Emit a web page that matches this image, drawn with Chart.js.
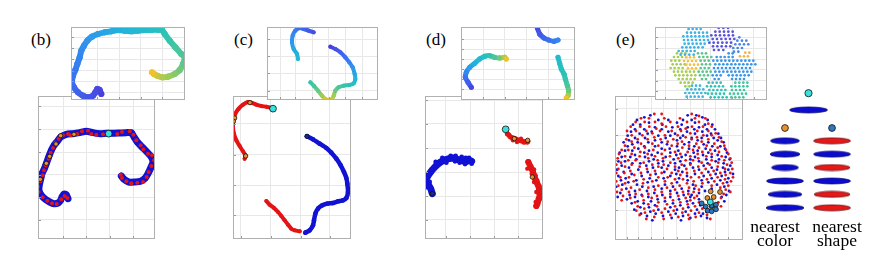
<!DOCTYPE html>
<html>
<head>
<meta charset="utf-8">
<script src="https://cdn.jsdelivr.net/npm/chart.js@4"></script>
<style>
body{margin:0;background:#fff;width:880px;height:270px;position:relative;overflow:hidden;font-family:"Liberation Serif","DejaVu Serif",serif}
canvas{position:absolute}
.lab{position:absolute;font-size:17px;line-height:16px;color:#000}
.cap{position:absolute;font-size:17.5px;line-height:14px;text-align:center;width:70px;color:#000}
</style>
</head>
<body>
<canvas id="bMain" width="117" height="143" style="left:38px;top:96px"></canvas>
<canvas id="bIn" width="114" height="73" style="left:71px;top:27px;z-index:2"></canvas>
<canvas id="cMain" width="118" height="143" style="left:233px;top:96px"></canvas>
<canvas id="cIn" width="111" height="73" style="left:267px;top:27px;z-index:2"></canvas>
<canvas id="dMain" width="118" height="143" style="left:425px;top:96px"></canvas>
<canvas id="dIn" width="114" height="73" style="left:461px;top:27px;z-index:2"></canvas>
<canvas id="eMain" width="128" height="144" style="left:615px;top:96px"></canvas>
<canvas id="eIn" width="112" height="73" style="left:655px;top:27px;z-index:2"></canvas>
<canvas id="eDiag" width="135" height="130" style="left:745px;top:85px"></canvas>
<div class="lab" style="left:31px;top:32px">(b)</div>
<div class="lab" style="left:234px;top:32px">(c)</div>
<div class="lab" style="left:426px;top:32px">(d)</div>
<div class="lab" style="left:616px;top:32px">(e)</div>
<div class="cap" style="left:740px;top:219px">nearest<br>color</div>
<div class="cap" style="left:802px;top:219px">nearest<br>shape</div>
<script>
// ---- panel (b) ----
const bGridX = [85, 155, 225, 295]
const bGridY = [42, 112, 180, 248, 316, 383]
const bBlue = [[100,320],[95,308],[88,306],[82,315],[78,325],[70,333],[58,335],[45,330],[32,322],[20,310],[13,295],[14,278],[18,262],[22,245],[30,228],[36,212],[42,195],[50,175],[58,160],[68,148],[78,135],[95,127],[115,125],[135,122],[155,118],[175,122],[195,125],[215,124],[235,124],[255,123],[275,122],[290,122],[298,135],[308,150],[322,165],[335,178],[350,195],[355,210],[348,228],[340,245],[332,258],[318,268],[300,270],[282,270],[268,262],[260,252]]
const bRed = [[98,318],[90,312],[80,322],[66,336],[52,334],[38,326],[24,316],[12,300],[10,284],[17,268],[24,250],[28,235],[33,220],[42,200],[48,182],[55,168],[62,152],[72,140],[85,130],[100,126],[108,130],[128,126],[142,118],[160,116],[170,126],[185,128],[205,127],[248,126],[262,120],[285,118],[296,128],[305,145],[318,160],[326,172],[340,185],[352,190],[358,205],[350,222],[342,240],[336,255],[325,270],[308,272],[290,274],[275,268],[262,258],[258,248]]
const bOrange = [[78,131],[118,127],[64,156],[45,193],[35,214],[17,262]]
const bCyan = [[222,125]]
const bInGridX = [88, 153, 218, 283]
const bInGridY = [40, 72, 105, 140, 172, 205]
const bInCurve = [[100,210],[95,198],[88,195],[82,205],[75,215],[62,220],[45,215],[30,205],[18,190],[12,175],[15,155],[22,138],[28,120],[35,100],[40,80],[48,65],[58,50],[72,38],[90,30],[110,25],[130,22],[150,18],[170,20],[190,22],[210,20],[230,18],[250,18],[270,17],[282,18],[290,30],[305,50],[322,70],[340,90],[350,100],[345,120],[335,138],[320,150],[300,158],[282,160],[268,155],[258,150],[252,145]]
const bInT = [0,0.02,0.03,0.04,0.05,0.07,0.09,0.11,0.13,0.15,0.17,0.19,0.21,0.23,0.25,0.27,0.29,0.31,0.33,0.36,0.38,0.4,0.42,0.44,0.46,0.48,0.5,0.52,0.54,0.57,0.6,0.63,0.66,0.69,0.72,0.75,0.79,0.83,0.87,0.91,0.95,1]

// ---- panel (c) ----
const cGridX = [38, 128, 218, 305]
const cGridY = [95, 188, 280, 370]
const cRed1 = [[128,47],[115,44],[100,42],[85,38],[70,32],[60,30],[45,38],[32,50],[22,65],[16,85],[15,105],[18,125],[25,145],[35,162],[45,178],[52,190],[50,200]]
const cRed2 = [[115,327],[125,338],[138,348],[150,360],[160,372],[170,385],[180,398],[190,410],[200,415],[215,418]]
const cBlue = [[237,133],[255,142],[275,155],[295,168],[310,182],[325,200],[338,220],[348,240],[355,258],[358,275],[360,300],[355,318],[345,325],[330,328],[315,333],[298,335],[283,340],[270,350],[262,365],[258,385],[255,400],[245,415],[232,422]]
const cOrange = [[66,32],[20,78],[16,88],[53,192]]
const cCyan = [[135,50]]
const cDark = [[237,133]]
const cInGridX = [55, 100, 150, 200, 250, 300]
const cInGridY = [45, 97, 148, 200]
const cInA = [[155,25],[140,20],[125,15],[113,12],[100,20],[92,35],[90,55],[95,75],[105,90],[108,105]]
const cInAT = [0.05,0.08,0.12,0.15,0.2,0.25,0.3,0.36,0.42,0.46]
const cInB = [[205,68],[220,75],[235,85],[250,100],[262,115],[272,130],[278,150],[280,165],[275,178],[262,183],[245,185],[230,190],[220,200],[215,215],[210,225],[200,228],[190,225],[180,215],[168,200],[155,185],[145,175]]
const cInBT = [0,0.05,0.1,0.15,0.22,0.28,0.35,0.42,0.5,0.55,0.6,0.66,0.74,0.84,0.92,1,0.94,0.84,0.74,0.66,0.6]

// ---- panel (d) ----
const dGridX = [70, 143, 215, 288]
const dGridY = [25, 95, 168, 240, 312, 383]
const dBlue = [[148,208],[140,205],[130,210],[118,205],[105,202],[95,198],[80,200],[65,205],[55,210],[45,218],[35,228],[25,240],[15,255],[12,265],[18,278],[25,290],[30,305]]
const dBlueDots = [[140,198],[128,216],[112,212],[98,208],[85,192],[72,212],[60,198],[40,210],[28,232],[20,248],[10,262],[22,270],[14,285],[28,298],[118,195],[130,198],[148,215],[100,192]]
const dRed1 = [[255,125],[265,135],[278,140],[290,145],[302,148],[315,150]]
const dRed2 = [[318,210],[325,225],[332,240],[338,258],[345,275],[350,290],[352,305],[350,320],[345,335],[342,342]]
const dRedDots = [[260,128],[272,145],[284,150],[296,140],[305,152],[318,148],[322,218],[315,230],[335,232],[328,245],[340,250],[345,265],[335,270],[352,282],[355,300],[342,300],[346,320],[355,315],[340,330]]
const dOrange = [[276,140],[316,145],[330,255]]
const dCyan = [[250,112]]
const dDark = [[30,305]]
const dInGridX = [75, 140, 205, 270]
const dInGridY = [45, 75, 105, 135, 165, 195]
const dInL = [[40,190],[30,175],[22,160],[25,145],[35,130],[50,118],[65,105],[80,97],[95,95],[110,100],[125,102],[140,100],[145,105]]
const dInLT = [0.03,0.1,0.16,0.24,0.33,0.4,0.46,0.52,0.58,0.66,0.76,0.88,0.98]
const dInTR = [[238,12],[245,30],[258,42],[272,48],[288,52],[300,48]]
const dInTRT = [0.04,0.08,0.12,0.16,0.2,0.24]
const dInR = [[300,100],[305,118],[310,135],[318,150],[322,165],[328,185],[332,200],[330,215],[325,222]]
const dInRT = [0.46,0.5,0.53,0.56,0.6,0.66,0.74,0.86,1]

// ---- panel (e) ---- rows are [y, x, x, ...]
const eGridX = [45, 80, 118, 155, 195, 235, 275, 310, 350]
const eGridY = [50, 130, 205, 280, 355]
const eRedRows = [[66,128,150,240],[72,262],[79,88,112,158,205,250,281],[90,72,99,130,176,226,262],[95,150,290],[104,57,86,113,163,199,241,274,300],[110,134,222],[117,46,73,104,145,180,208,257,290],[124,122,236,312],[130,60,92,160,198,275,300],[136,128,222,256,322],[142,44,78,108,147,185,240,290],[149,60,168,211,270,330],[155,88,122,198,254,308],[161,40,140,180,232,285,338],[167,68,100,212,262,318],[174,30,50,125,160,244,296,343],[180,86,190,228,272,322],[186,22,60,108,150,206,258,300,350],[193,40,84,130,175,236,284,330],[199,18,110,154,200,260,356],[205,50,72,138,222,244,300,338],[212,28,96,176,270,320,360],[218,14,60,122,156,210,236,294,346],[224,40,84,140,190,260,318],[231,20,106,166,224,282,340,362],[237,56,130,200,248,306],[243,14,38,88,150,180,226,270,326,356],[249,68,116,206,296,342],[256,26,52,140,168,238,262,318,364],[262,96,190,214,286,340],[268,14,66,122,160,246,308,358],[274,40,94,180,226,272,334],[281,20,140,204,252,300,350],[287,58,110,166,232,326],[293,30,84,130,190,262,342],[300,16,52,150,214,246,356],[306,72,110,176,230,336],[312,34,92,136,200,256],[318,56,120,160,222,248,328],[325,30,96,184,236],[331,70,140,206,262,320],[337,110,166,228],[343,78,136,190,250,328],[350,98,160,214,272],[356,74,126,186,238,292],[362,100,150,212,262],[369,84,176,230,286],[375,128,200,252],[381,104,156,232,296]]
const eBlueRows = [[70,116,228,254],[76,98,272],[84,76,140,170,214,240,288],[92,112,196,250],[98,64,86,152,210,280,302],[106,130,182,228,262],[112,70,98,150,206,248,286,310],[119,58,120,170,226,272],[125,84,108,190,250,298,320],[131,48,140,176,214,286],[138,70,100,162,206,240,270,306,328],[145,52,130,196,258,318],[151,36,78,110,150,232,290,336],[157,62,166,218,276],[163,48,98,130,196,248,302,326],[170,80,150,174,232,282,340],[176,40,62,112,200,258,310],[182,24,98,138,176,246,290,346],[189,70,120,194,222,274,318],[195,30,56,100,162,210,250,300,342],[202,74,126,186,236,284,322,354],[208,20,40,112,154,206,262,312],[214,62,86,140,190,236,288,336],[221,30,104,170,218,276,356],[227,52,124,150,202,244,300,334],[233,16,80,190,262,316,350],[240,36,108,158,212,290,340],[246,60,132,194,250,312,364],[252,20,90,176,226,276,330],[259,42,114,156,202,300,350],[265,28,74,134,228,270,326],[271,50,108,196,290,346],[278,32,76,160,244,316],[284,14,92,126,184,270,338],[290,44,150,210,248,300],[297,70,106,176,230,280,352],[303,26,128,196,262],[309,54,90,152,216,240,344],[315,18,70,110,176,236,330],[322,46,138,202,262],[328,78,118,160,226,338],[334,60,96,184,244],[340,130,206,266],[346,86,112,176,230,278],[353,68,140,196,256],[359,116,170,222,284],[365,88,132,192,250,274],[372,106,154,214,268],[378,180,236,286],[385,122,208]]
const eOrange = [[297,298],[325,300],[287,318],[306,315],[300,343]]
const eNeighbours = [[270,334],[282,344],[300,340],[313,338],[288,356],[300,358],[313,352]]
const eQuery = [[296,330]]
const eInGridX = [40, 105, 175, 240, 305]
const eInGridY = [40, 72, 105, 137, 170, 200]
const eInCyan = [[15,110,122,134,146],[26,105,117,129,141,153,165],[37,94,106,118,130,142,154,166],[48,96,108,120,132,144,156,168],[59,98,110,122,134,146,158],[70,91,103,115,127,139,152],[81,80,92,104,116,128],[92,86,99,112,125]]
const eInPurple = [[12,200,214,228],[23,190,203,216,229,242],[34,178,191,204,217,230,243],[45,182,195,208,221,234,247],[56,172,185,198,211,224,237],[67,183,196,209,222,235],[78,186,200,214]]
const eInBlueTop = [[40,262],[50,256,270,283],[61,250,263,276,289],[72,244,257,270],[83,246,259]]
const eInOrange = [[86,280,292],[97,264,276,288]]
const eInYellowGreen = [[88,75,88,100],[99,66,78,90],[110,58,70,82],[121,62,74,86,98],[132,56,68,80,92],[143,66,78,90,102,114,126],[154,70,82,94,106,118,130],[165,80,92,104,116,128],[176,86,98,110,122],[187,100,112]]
const eInYellow = [[100,102,114,126],[111,96,108,120,132],[122,102,114,126,138],[133,108,120,132]]
const eInGreen = [[88,138,150,162],[99,142,154,166,178],[110,146,158,170],[121,150,162,174],[132,146,158,170],[143,140,152,164,176],[154,144,156,168],[165,150,162]]
const eInBlue = [[88,230,242],[99,194,206,218,230,242],[110,184,196,208,220,232,244,256,268,280,292,304],[121,190,202,214,226,238,250,262,274,286,298,310],[132,186,198,210,222,234,246,258,270,282,294],[143,190,202,214,226,238,250,262,274,286,298],[154,182,194,206,230,242,254,266,278,290],[165,188,200,240,252,264,276]]
const eInCyanLow = [[185,120,132,144],[196,106,118,130,142,154],[207,100,112,124,136,148,160],[218,104,116,128,140,152],[228,112,124,136,148]]
const eInTeal = [[176,170,182,194,206],[187,165,177,189,201,213],[198,172,184,196,208,220],[209,168,180,192,204,216],[220,176,188,200,212,224]]
const eInTealGreen = [[176,250,262,274,286],[187,238,250,262,274,286],[198,240,252,264,276],[209,234,246,258,270,282],[220,238,250,262,274],[229,246,258]]

// ---- schematic: query, nearest by colour, nearest by shape ----
const nnRank = [1, 2, 3, 4, 5, 6]
const byColour = ['blue', 'blue', 'blue', 'blue', 'blue', 'blue']
const byShape = ['red', 'blue', 'red', 'blue', 'red', 'red']

// ---- styles ----
const BLUE = '#1212d4', RED = '#e41414', ORANGE = '#e8902c', CYAN = '#3ae0e0', STEEL = '#2f78c0'
const stops = ['#4b3fdc', '#3c6cf0', '#2e95ee', '#22b6d8', '#2cc4b4', '#5cc88a', '#a8cc50', '#f2c22e']
const hex = h => [1, 3, 5].map(i => parseInt(h.slice(i, i + 2), 16))
function cmap(t) {
	const n = stops.length - 1, f = Math.min(Math.max(t, 0), 1) * n, i = Math.min(Math.floor(f), n - 1), u = f - i
	const a = hex(stops[i]), b = hex(stops[i + 1])
	return 'rgb(' + a.map((v, k) => Math.round(v + (b[k] - v) * u)).join(',') + ')'
}

const pts = a => a.map(([x, y]) => ({x, y}))
const rows = r => r.flatMap(([y, ...xs]) => xs.map(x => ({x, y})))

function ribbon(data, color, w, r) {
	return {data: pts(data), showLine: true, borderColor: color, borderWidth: w, tension: 0.2,
		borderCapStyle: 'round', borderJoinStyle: 'round', pointRadius: r, pointBackgroundColor: color, pointBorderWidth: 0}
}
function dots(data, color, r, edge) {
	return {data: data, pointRadius: r, pointBackgroundColor: color,
		pointBorderColor: '#111', pointBorderWidth: edge ? 0.8 : 0}
}
function grad(data, t, w) {
	return {data: pts(data), showLine: true, borderWidth: w, tension: 0.2, borderCapStyle: 'round', borderJoinStyle: 'round',
		pointRadius: w / 2, pointBackgroundColor: t.map(cmap), pointBorderWidth: 0,
		segment: {borderColor: c => cmap((t[c.p0DataIndex] + t[c.p1DataIndex]) / 2)}}
}

const frame = {
	id: 'frame',
	beforeDraw(c) {
		const g = c.ctx
		g.save(); g.fillStyle = '#fff'; g.fillRect(0, 0, c.width, c.height); g.restore()
	},
	afterDraw(c) {
		const a = c.chartArea, g = c.ctx, sx = c.scales.x, sy = c.scales.y
		g.save()
		g.strokeStyle = '#9a9a9a'; g.lineWidth = 1; g.beginPath()
		sy.ticks.forEach(t => { const p = Math.round(sy.getPixelForValue(t.value)) + 0.5; g.moveTo(a.left, p); g.lineTo(a.left + 3, p) })
		sx.ticks.forEach(t => { const p = Math.round(sx.getPixelForValue(t.value)) + 0.5; g.moveTo(p, a.bottom); g.lineTo(p, a.bottom - 3) })
		g.stroke()
		g.strokeStyle = '#b0b0b0'
		g.strokeRect(a.left + 0.5, a.top + 0.5, a.width - 1, a.height - 1)
		g.restore()
	}
}

function axis(min, max, grid, rev) {
	return {min: min, max: max, reverse: !!rev, ticks: {display: false},
		grid: {color: '#e8e8e8', drawTicks: false}, border: {display: false},
		afterBuildTicks: s => { s.ticks = grid.map(v => ({value: v})) }}
}

function plot(id, box, gx, gy, datasets) {
	return new Chart(document.getElementById(id), {
		type: 'scatter',
		data: {datasets: datasets},
		options: {
			responsive: false, animation: false, events: [],
			layout: {padding: 0, autoPadding: false},
			plugins: {legend: {display: false}, tooltip: {enabled: false}},
			scales: {x: axis(box[0], box[1], gx), y: axis(box[2], box[3], gy, true)}
		},
		plugins: [frame]
	})
}

plot('bMain', [10, 361, 12, 441], bGridX, bGridY, [
	dots(pts(bCyan), CYAN, 3.4, true),
	dots(pts(bOrange), ORANGE, 2.2, true),
	dots(pts(bRed), RED, 2),
	ribbon(bBlue, BLUE, 7, 3)
])
plot('bIn', [9, 351, 9, 228], bInGridX, bInGridY, [grad(bInCurve, bInT, 6)])

plot('cMain', [15, 369, 12, 441], cGridX, cGridY, [
	dots(pts(cCyan), CYAN, 3.4, true),
	dots(pts(cOrange), ORANGE, 2.2, true),
	dots(pts(cDark), '#1a2a90', 2.2, true),
	ribbon(cRed1, RED, 4, 2),
	ribbon(cRed2, RED, 4, 2),
	ribbon(cBlue, BLUE, 4.5, 2.3)
])
plot('cIn', [15, 348, 9, 228], cInGridX, cInGridY, [grad(cInA, cInAT, 4), grad(cInB, cInBT, 4)])

plot('dMain', [8, 362, 12, 441], dGridX, dGridY, [
	dots(pts(dCyan), CYAN, 3.4, true),
	dots(pts(dOrange), ORANGE, 2.2, true),
	dots(pts(dDark), '#1a2a90', 2.2, true),
	dots(pts(dRedDots), RED, 2.2),
	ribbon(dRed1, RED, 5, 2.5),
	ribbon(dRed2, RED, 6, 3),
	dots(pts(dBlueDots), BLUE, 2.4),
	ribbon(dBlue, BLUE, 7, 3)
])
plot('dIn', [9, 351, 9, 228], dInGridX, dInGridY, [grad(dInL, dInLT, 5), grad(dInTR, dInTRT, 5), grad(dInR, dInRT, 5)])

plot('eMain', [10, 394, 12, 444], eGridX, eGridY, [
	dots(pts(eQuery), CYAN, 3, true),
	dots(pts(eNeighbours), STEEL, 2.4, true),
	dots(pts(eOrange), ORANGE, 2.4, true),
	dots(rows(eRedRows), RED, 1.4),
	dots(rows(eBlueRows), BLUE, 1.4)
])
plot('eIn', [9, 345, 9, 228], eInGridX, eInGridY, [
	dots(rows(eInCyan), '#3fb2e2', 1.35),
	dots(rows(eInPurple), '#5a52d8', 1.35),
	dots(rows(eInBlueTop), '#4a86e8', 1.35),
	dots(rows(eInOrange), '#f0b444', 1.35),
	dots(rows(eInYellow), '#f2c040', 1.35),
	dots(rows(eInYellowGreen), '#a6cc52', 1.35),
	dots(rows(eInGreen), '#5ec28c', 1.35),
	dots(rows(eInBlue), '#3c96e6', 1.35),
	dots(rows(eInCyanLow), '#38b8dc', 1.35),
	dots(rows(eInTeal), '#2ec2b6', 1.35),
	dots(rows(eInTealGreen), '#3ec69c', 1.35)
])

// schematic ellipses
const fills = {blue: ['#0c0cd0', '#000066'], red: ['#e81818', '#550000']}
const colourWidths = [29, 30, 27, 37, 34, 38]
const shapeWidths = [37, 37, 36, 37, 36, 37]
function ellipse(w, kind) {
	const c = document.createElement('canvas'), g = c.getContext('2d')
	c.width = w + 2; c.height = 8
	g.beginPath(); g.ellipse(c.width / 2, 4, w / 2, 3, 0, 0, Math.PI * 2)
	g.fillStyle = fills[kind][0]; g.fill()
	g.lineWidth = 0.7; g.strokeStyle = fills[kind][1]; g.stroke()
	return c
}
const colourImgs = byColour.map((k, i) => ellipse(colourWidths[i], k))
const shapeImgs = byShape.map((k, i) => ellipse(shapeWidths[i], k))
new Chart(document.getElementById('eDiag'), {
	type: 'scatter',
	data: {datasets: [
		dots([{x: 1, y: -2.55}], CYAN, 3.6, true),
		{data: [{x: 1, y: -1.3}], pointRadius: 5, pointStyle: ellipse(38, 'blue')},
		dots([{x: 0, y: 0.05}], ORANGE, 3.4, true),
		dots([{x: 2, y: 0.05}], STEEL, 3.4, true),
		{data: nnRank.map(r => ({x: 0, y: r})), pointRadius: 5, pointStyle: c => colourImgs[c.dataIndex]},
		{data: nnRank.map(r => ({x: 2, y: r})), pointRadius: 5, pointStyle: c => shapeImgs[c.dataIndex]}
	]},
	options: {
		responsive: false, animation: false, events: [],
		layout: {padding: 0, autoPadding: false},
		plugins: {legend: {display: false}, tooltip: {enabled: false}},
		scales: {
			x: {display: false, min: -1.7, max: 4.04},
			y: {display: false, min: -3.16, max: 6.54, reverse: true}
		}
	}
})
</script>
</body>
</html>
